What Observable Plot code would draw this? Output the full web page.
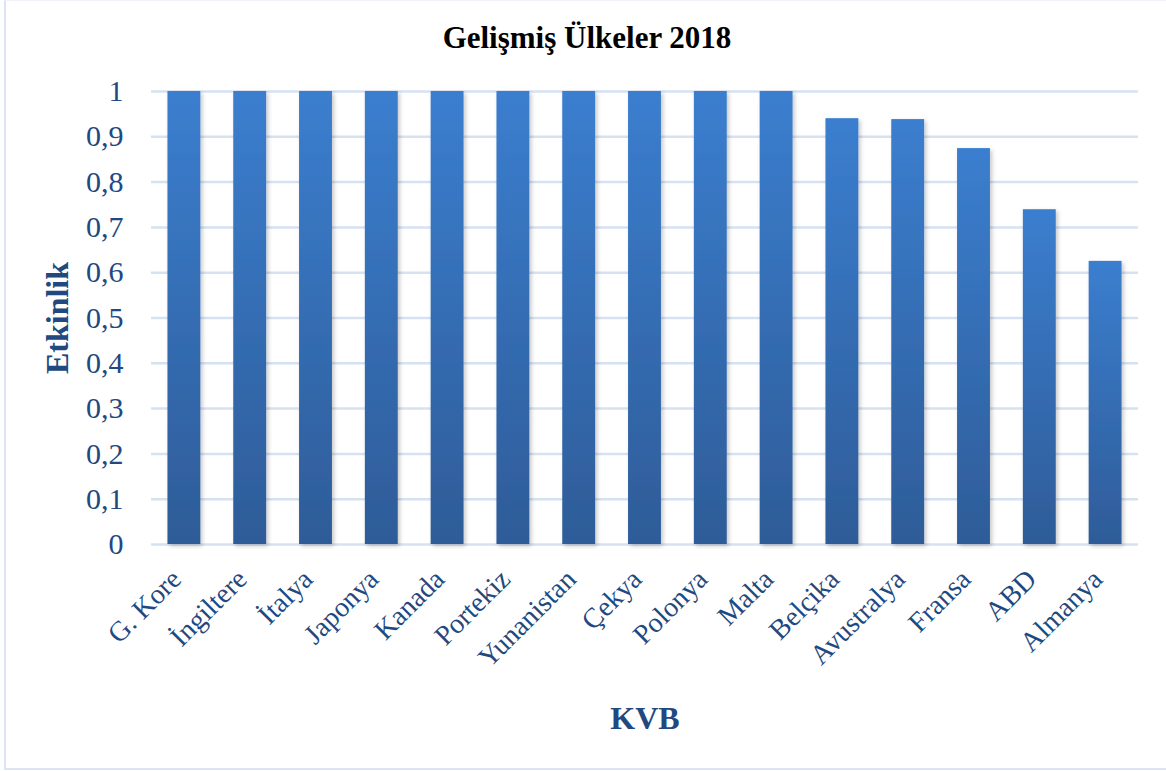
<!DOCTYPE html>
<html>
<head>
<meta charset="utf-8">
<script src="https://cdn.jsdelivr.net/npm/d3@7"></script>
<script src="https://cdn.jsdelivr.net/npm/@observablehq/plot@0.6"></script>
<style>
  html, body { margin: 0; padding: 0; background: #fff; }
  #wrap { position: relative; width: 1166px; height: 771px; overflow: hidden; background: #fff; }
  #frame { position: absolute; left: 4px; top: 0px; width: 1170px; height: 770px; border-left: 2px solid #dae4f2; border-bottom: 2px solid #dae4f2; border-top: 1px solid #f0f4fa; box-sizing: border-box; }
  #title { position: absolute; left: 4px; top: 0; width: 1166px; height: 70px; text-align: center; font-family: "Liberation Serif", "Times New Roman", serif; font-weight: bold; font-size: 31px; line-height: 31px; padding-top: 22px; box-sizing: border-box; color: #000; }
  #chart { position: absolute; left: 0; top: 70px; }
</style>
</head>
<body>
<div id="wrap">
  <div id="frame"></div>
  <div id="title">Gelişmiş Ülkeler 2018</div>
  <div id="chart"></div>
</div>
<script>
const countries = ["G. Kore", "İngiltere", "İtalya", "Japonya", "Kanada", "Portekiz", "Yunanistan", "Çekya", "Polonya", "Malta", "Belçika", "Avustralya", "Fransa", "ABD", "Almanya"];
const values = [1, 1, 1, 1, 1, 1, 1, 1, 1, 1, 0.940, 0.938, 0.874, 0.739, 0.625];
const yTicks = [0, 0.1, 0.2, 0.3, 0.4, 0.5, 0.6, 0.7, 0.8, 0.9, 1];
const yLabel = "Etkinlik";
const xLabel = "KVB";

const data = countries.map((c, i) => ({country: c, value: values[i]}));
const textColor = "#21497f";
const font = "'Liberation Serif', 'Times New Roman', serif";

function gradientDefs() {
  const ns = "http://www.w3.org/2000/svg";
  const defs = document.createElementNS(ns, "defs");
  const lg = document.createElementNS(ns, "linearGradient");
  lg.setAttribute("id", "barGrad");
  lg.setAttribute("x1", "0"); lg.setAttribute("y1", "0");
  lg.setAttribute("x2", "0"); lg.setAttribute("y2", "1");
  [["0%", "#3b7ecf"], ["100%", "#2e5c98"]].forEach(([o, c]) => {
    const s = document.createElementNS(ns, "stop");
    s.setAttribute("offset", o); s.setAttribute("stop-color", c);
    lg.appendChild(s);
  });
  defs.appendChild(lg);
  const f = document.createElementNS(ns, "filter");
  f.setAttribute("id", "shadow");
  f.setAttribute("x", "-20%"); f.setAttribute("y", "-5%");
  f.setAttribute("width", "150%"); f.setAttribute("height", "115%");
  const ds = document.createElementNS(ns, "feDropShadow");
  ds.setAttribute("dx", "2"); ds.setAttribute("dy", "2");
  ds.setAttribute("stdDeviation", "2");
  ds.setAttribute("flood-color", "#000"); ds.setAttribute("flood-opacity", "0.22");
  f.appendChild(ds);
  defs.appendChild(f);
  const g = document.createElementNS(ns, "g");
  g.appendChild(defs);
  return g;
}

const chart = Plot.plot({
  width: 1166,
  height: 701,
  marginLeft: 151,
  marginRight: 28,
  marginTop: 21,
  marginBottom: 227,
  style: {background: "transparent", fontFamily: font, color: textColor, overflow: "visible"},
  x: {domain: countries, paddingInner: 0.5, paddingOuter: 0.25, round: false, label: null},
  y: {domain: [0, 1], label: null},
  marks: [
    gradientDefs,
    Plot.gridY(yTicks, {stroke: "#d6e2f2", strokeOpacity: 1, strokeWidth: 2.5}),
    Plot.barY(data, {x: "country", y: "value", fill: "url(#barGrad)"}),
    Plot.axisY({ticks: yTicks, tickSize: 0, tickPadding: 28, tickFormat: d => String(d).replace(".", ","), fontSize: 30, fill: textColor, label: null}),
    Plot.axisX({tickSize: 0, tickPadding: 14, dx: -8, dy: 16, tickRotate: -45, fontSize: 28, fill: textColor, label: null}),
    Plot.text([yLabel], {frameAnchor: "left", textAnchor: "middle", lineAnchor: "middle", dx: -94, rotate: -90, text: d => d, fontSize: 32, fontWeight: "bold", fill: textColor}),
    Plot.text([xLabel], {frameAnchor: "bottom", textAnchor: "middle", lineAnchor: "bottom", dy: 184, text: d => d, fontSize: 32, fontWeight: "bold", fill: textColor})
  ]
});
chart.querySelectorAll("g[aria-label='bar'] rect").forEach(r => r.setAttribute("filter", "url(#shadow)"));
document.getElementById("chart").appendChild(chart);
</script>
</body>
</html>
